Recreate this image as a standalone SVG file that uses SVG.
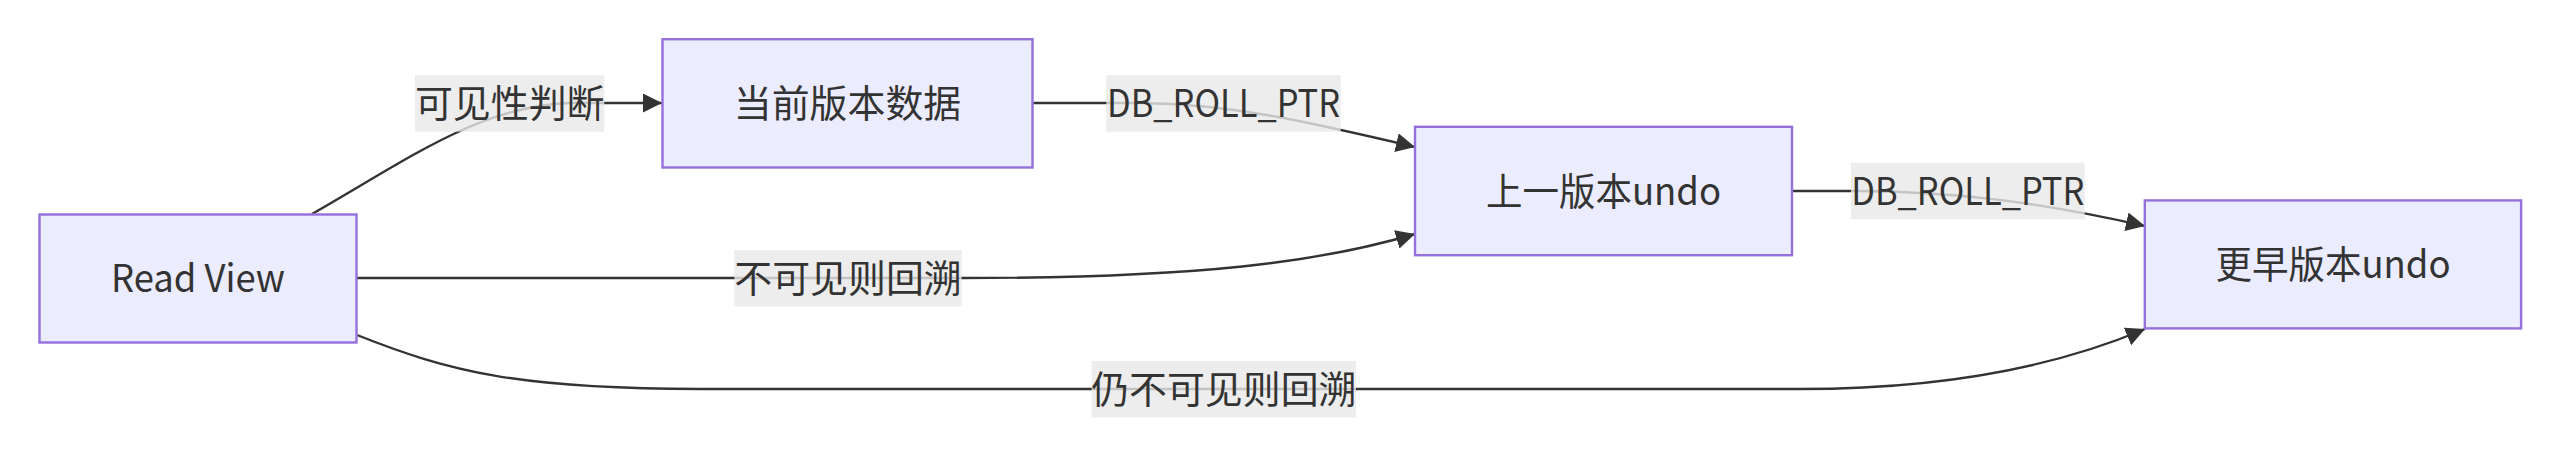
<svg xmlns="http://www.w3.org/2000/svg" width="2560" height="457" viewBox="0 0 2560 457">
<style>
.node text,.lbl text{font-family:"Noto Sans CJK SC","Noto Sans",sans-serif;font-size:37.9px;fill:#333333;text-anchor:middle;dominant-baseline:central}
.node rect{fill:#ECECFF;stroke:#9370DB;stroke-width:2.4}
.edge{fill:none;stroke:#333333;stroke-width:2.4;marker-end:url(#arrow)}
.lbl rect{fill:rgba(232,232,232,0.8)}
</style>
<defs>
<marker id="arrow" viewBox="0 0 10 10" markerUnits="userSpaceOnUse" markerWidth="19" markerHeight="19" refX="10" refY="5" orient="auto">
<path d="M0,0 L10,5 L0,10 z" fill="#333333"/>
</marker>
</defs>
<rect width="2560" height="457" fill="#ffffff"/>
<g id="connectors">
<path class="edge" d="M312,214 C410,158 480,106 570,103 L662,103"/>
<path class="edge" d="M1033,103 L1140,103 C1230,104 1300,120 1415,147"/>
<path class="edge" d="M357,278 L962,278 C1200,278 1320,262 1415,234"/>
<path class="edge" d="M357,335 C450,372 520,389 700,389 L1800,389 C1950,389 2060,365 2145,329"/>
<path class="edge" d="M1792,191 L1860,191 C1950,192 2030,200 2145,226"/>
</g>
<g id="edge-labels">
<g class="lbl"><rect x="415" y="75.3" width="189.3" height="56.4"/><text x="509.7" y="100.5">可见性判断</text></g>
<g class="lbl"><rect x="1106.3" y="75.3" width="234.4" height="56.4"/><text x="1223.5" y="100.5" textLength="233" lengthAdjust="spacingAndGlyphs">DB_ROLL_PTR</text></g>
<g class="lbl"><rect x="734.3" y="250" width="227.4" height="56.4"/><text x="848" y="275.2">不可见则回溯</text></g>
<g class="lbl"><rect x="1091.7" y="361" width="264.3" height="56.4"/><text x="1223.8" y="386.2">仍不可见则回溯</text></g>
<g class="lbl"><rect x="1851" y="162.7" width="233.7" height="56.6"/><text x="1967.8" y="188" textLength="233" lengthAdjust="spacingAndGlyphs">DB_ROLL_PTR</text></g>
</g>
<g id="node-readview" class="node"><rect x="39.5" y="214.5" width="317" height="128"/><text x="198" y="275.5" textLength="174" lengthAdjust="spacingAndGlyphs">Read View</text></g>
<g id="node-current" class="node"><rect x="662.5" y="39.2" width="370" height="128.3"/><text x="847.5" y="100.3">当前版本数据</text></g>
<g id="node-prev" class="node"><rect x="1415" y="126.8" width="377" height="128.4"/><text x="1603.5" y="188" textLength="235" lengthAdjust="spacingAndGlyphs">上一版本undo</text></g>
<g id="node-earlier" class="node"><rect x="2144.8" y="200.4" width="376.3" height="128"/><text x="2333" y="261.4" textLength="235" lengthAdjust="spacingAndGlyphs">更早版本undo</text></g>
</svg>
